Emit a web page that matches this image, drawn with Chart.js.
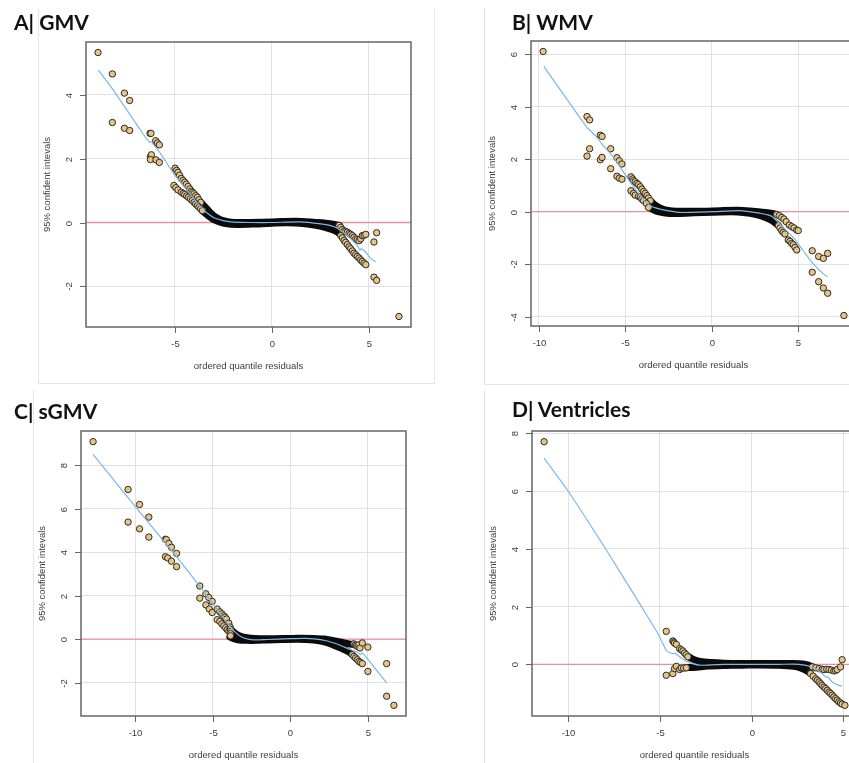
<!DOCTYPE html>
<html><head><meta charset="utf-8">
<script src="https://cdn.jsdelivr.net/npm/chart.js@4/dist/chart.umd.min.js"></script>
<style>
html,body{margin:0;padding:0;background:#fff;}
body{width:849px;height:763px;overflow:hidden;position:relative;}
.frame{position:absolute;border:0 solid #e5e5e5;box-sizing:border-box;}
.title{position:absolute;font-family:Lato,"Open Sans",sans-serif;font-weight:700;font-size:21px;color:#111;white-space:nowrap;line-height:21px;}
canvas{position:absolute;}
</style></head><body>
<div class="frame" style="left:38px;top:9px;width:397px;height:375px;border-left-width:1px;border-right-width:1px;border-bottom-width:1px"></div>
<div class="frame" style="left:484px;top:8px;width:370px;height:377px;border-left-width:1px;border-bottom-width:1px"></div>
<div class="frame" style="left:33px;top:390px;width:10px;height:373px;border-left-width:1px"></div>
<div class="frame" style="left:484px;top:390px;width:10px;height:373px;border-left-width:1px"></div>

<canvas id="cA" width="420" height="385" style="left:36px;top:0px"></canvas>
<canvas id="cB" width="420" height="385" style="left:481px;top:-1px"></canvas>
<canvas id="cC" width="420" height="385" style="left:31px;top:389px"></canvas>
<canvas id="cD" width="420" height="385" style="left:482px;top:389px"></canvas>

<div class="title" style="left:14px;top:11px">A| GMV</div>
<div class="title" style="left:512px;top:11px">B| WMV</div>
<div class="title" style="left:14px;top:400px">C| sGMV</div>
<div class="title" style="left:512px;top:398px">D| Ventricles</div>

<script>
// ---------------- common text ----------------
const xTitle = "ordered quantile residuals";
const yTitle = "95% confident intevals";
const refY = 0;

// ---------------- A | GMV ----------------
const gmvXTicks = [-5, 0, 5];
const gmvYTicks = [-2, 0, 2, 4];
const gmvXRange = [-9.57, 7.18];
const gmvYRange = [-3.27, 5.65];
const gmvPoints = [
  [-8.95,5.32],[-8.21,4.65],[-8.21,3.13],[-7.59,4.05],[-7.32,3.82],[-7.59,2.95],[-7.32,2.88],
  [-6.27,2.79],[-6.22,2.79],[-5.98,2.56],[-5.89,2.49],[-5.79,2.43],[-6.25,2.06],[-6.2,2.12],
  [-6.25,1.97],[-5.96,1.96],[-5.79,1.88],
  [-4.98,1.7],[-4.9,1.63],[-4.83,1.57],[-4.75,1.48],[-4.66,1.38],[-4.57,1.32],[-4.48,1.26],
  [-4.4,1.2],[-4.31,1.13],[-4.22,1.05],[-4.14,0.98],[-4.07,0.94],[-4.0,0.9],[-3.92,0.84],
  [-3.83,0.79],[-3.75,0.71],[-3.66,0.63],
  [-5.04,1.16],[-4.94,1.09],[-4.83,1.02],[-4.66,0.95],[-4.56,0.91],[-4.48,0.875],[-4.38,0.83],
  [-4.29,0.79],[-4.19,0.74],[-4.09,0.69],[-4.0,0.63],[-3.92,0.58],[-3.83,0.53],[-3.75,0.48],
  [-3.66,0.43],[-3.57,0.375],
  [3.47,-0.09],[3.56,-0.15],[3.64,-0.22],[3.73,-0.26],[3.81,-0.28],[3.9,-0.3],[3.99,-0.34],
  [4.07,-0.37],[4.16,-0.41],[4.24,-0.46],[4.33,-0.51],[4.41,-0.54],[4.5,-0.57],[4.59,-0.51],
  [4.67,-0.41],[4.76,-0.4],[4.85,-0.37],[5.27,-0.61],[5.41,-0.32],
  [3.56,-0.41],[3.64,-0.48],[3.73,-0.56],[3.81,-0.62],[3.9,-0.69],[3.99,-0.76],[4.07,-0.82],
  [4.16,-0.89],[4.24,-0.96],[4.33,-1.01],[4.41,-1.06],[4.5,-1.11],[4.59,-1.17],[4.67,-1.22],
  [4.76,-1.27],[4.85,-1.32],[5.27,-1.71],[5.41,-1.81],[6.56,-2.94]
];
const gmvBandHi = [[-3.7,0.66],[-3.5,0.53],[-3.3,0.4],[-3.1,0.27],[-2.9,0.17],[-2.6,0.08],[-2.2,0.02],
  [-1.5,0.0],[-0.5,0.01],[0.5,0.03],[1.2,0.04],[2.0,0.02],[2.6,-0.01],[3.0,-0.04],[3.3,-0.07],[3.5,-0.1]];
const gmvBandLo = [[-3.6,0.38],[-3.4,0.28],[-3.2,0.18],[-3.0,0.1],[-2.7,0.02],[-2.3,-0.04],[-1.8,-0.06],
  [-1.0,-0.05],[0,-0.02],[0.8,-0.01],[1.6,-0.03],[2.2,-0.08],[2.7,-0.14],[3.1,-0.22],[3.4,-0.3],[3.55,-0.38]];
const gmvFit = [[-8.93,4.77],[-8.21,4.18],[-7.44,3.5],[-6.75,2.88],[-6.29,2.51],[-6.2,2.53],[-6.1,2.45],
  [-5.72,2.15],[-5.04,1.52],[-4.35,1.0],[-3.66,0.48],[-3.3,0.28],[-2.97,0.15],[-2.5,0.06],[-1.94,0.01],
  [-1,0.0],[0,0.0],[1.49,0.02],[2.53,-0.04],[3.0,-0.09],[3.39,-0.18],[3.9,-0.41],[4.41,-0.72],
  [4.55,-0.86],[4.62,-0.82],[4.72,-0.86],[4.85,-0.93],[5.1,-1.12],[5.36,-1.23]];

// ---------------- B | WMV ----------------
const wmvXTicks = [-10, -5, 0, 5];
const wmvYTicks = [-4, -2, 0, 2, 4, 6];
const wmvXRange = [-10.46, 8.34];
const wmvYRange = [-4.36, 6.51];
const wmvPoints = [
  [-9.76,6.11],[-7.22,3.63],[-7.07,3.5],[-7.22,2.12],[-7.07,2.4],[-6.45,2.92],[-6.35,2.87],
  [-6.45,1.98],[-6.35,2.07],[-5.85,2.4],[-5.85,1.64],[-5.49,2.06],[-5.35,1.94],[-5.2,1.82],
  [-5.49,1.35],[-5.35,1.28],[-5.2,1.24],
  [-4.68,1.33],[-4.58,1.25],[-4.53,1.18],[-4.43,1.14],[-4.33,1.08],[-4.24,1.03],[-4.14,0.95],
  [-4.05,0.86],[-3.95,0.77],[-3.85,0.7],[-3.75,0.61],[-3.66,0.52],[-3.56,0.42],
  [-4.68,0.8],[-4.53,0.7],[-4.43,0.63],[-4.24,0.58],[-4.14,0.55],[-4.05,0.48],[-3.95,0.42],
  [-3.79,0.32],[-3.66,0.16],
  [3.75,-0.11],[3.9,-0.15],[4.04,-0.22],[4.17,-0.28],[4.3,-0.38],[4.48,-0.51],[4.62,-0.57],
  [4.75,-0.62],[4.91,-0.7],[5.0,-0.72],
  [3.85,-0.53],[3.94,-0.62],[4.04,-0.72],[4.13,-0.79],[4.23,-0.85],[4.42,-1.08],[4.52,-1.13],
  [4.62,-1.21],[4.71,-1.26],[4.81,-1.36],[4.91,-1.46],
  [5.81,-1.49],[5.81,-2.31],[6.18,-1.71],[6.18,-2.67],[6.45,-1.78],[6.45,-2.91],[6.7,-1.59],
  [6.7,-3.11],[7.64,-3.96]
];
const wmvBandHi = [[-3.6,0.45],[-3.4,0.32],[-3.2,0.22],[-3.0,0.14],[-2.7,0.07],[-2.3,0.03],[-1.5,0.02],
  [-0.5,0.02],[0.5,0.04],[1.5,0.05],[2.2,0.03],[2.7,0.0],[3.1,-0.03],[3.5,-0.07],[3.75,-0.11]];
const wmvBandLo = [[-3.65,0.18],[-3.4,0.08],[-3.1,0.0],[-2.7,-0.05],[-2.2,-0.07],[-1.5,-0.06],[-0.5,-0.03],
  [0.5,-0.01],[1.5,-0.01],[2.2,-0.06],[2.7,-0.13],[3.1,-0.22],[3.5,-0.35],[3.8,-0.5]];
const wmvFit = [[-9.72,5.54],[-8.5,4.4],[-7.22,3.21],[-7.03,3.09],[-6.8,2.95],[-6.35,2.58],[-5.68,2.07],
  [-4.91,1.31],[-4.14,0.61],[-3.56,0.23],[-2.99,0.1],[-2.4,0.02],[-1.83,-0.03],[0,0.0],[1.64,0.04],
  [2.79,-0.06],[3.3,-0.13],[3.56,-0.22],[4.13,-0.6],[4.71,-0.98],[5.29,-1.49],[5.87,-1.99],
  [6.45,-2.37],[6.68,-2.48]];

// ---------------- C | sGMV ----------------
const sgmvXTicks = [-10, -5, 0, 5];
const sgmvYTicks = [-2, 0, 2, 4, 6, 8];
const sgmvXRange = [-13.51, 7.47];
const sgmvYRange = [-3.54, 9.57];
const sgmvPoints = [
  [-12.73,9.08],[-10.47,6.88],[-10.47,5.38],[-9.73,6.19],[-9.73,5.07],[-9.13,5.61],[-9.13,4.69],
  [-8.06,4.59],[-8.0,4.57],[-7.84,4.4],[-7.67,4.22],[-7.34,3.94],[-8.06,3.79],[-7.91,3.73],
  [-7.67,3.58],[-7.34,3.33],[-5.84,2.44],[-5.84,1.88],[-5.45,2.08],[-5.26,1.91],[-5.04,1.73],
  [-5.45,1.57],[-5.23,1.38],[-5.04,1.22],
  [-4.72,1.38],[-4.55,1.25],[-4.42,1.16],[-4.29,1.07],[-4.2,1.0],[-4.12,0.92],[-3.97,0.73],
  [-4.72,0.89],[-4.55,0.81],[-4.42,0.7],[-4.29,0.61],[-4.17,0.52],[-4.07,0.43],[-3.97,0.35],
  [-3.88,0.55],[-3.87,0.45],[-3.86,0.35],[-3.86,0.25],[-3.86,0.15],
  [4.11,-0.22],[4.2,-0.28],[4.28,-0.31],[4.36,-0.35],[4.43,-0.26],[4.5,-0.41],[4.65,-0.18],[5.01,-0.37],
  [4.0,-0.72],[4.11,-0.8],[4.22,-0.87],[4.33,-0.95],[4.43,-1.03],[4.54,-1.08],[4.65,-1.13],[5.01,-1.49],
  [6.22,-1.13],[6.22,-2.63],[6.69,-3.05]
];
const sgmvBandHi = [[-3.9,0.5],[-3.75,0.38],[-3.5,0.24],[-3.2,0.13],[-2.8,0.06],[-2.3,0.02],[-1.5,0.01],
  [-0.5,0.02],[0.5,0.04],[1.5,0.03],[2.2,0.0],[2.8,-0.08],[3.3,-0.15],[3.8,-0.22],[4.05,-0.25]];
const sgmvBandLo = [[-3.9,0.1],[-3.6,0.0],[-3.3,-0.05],[-2.8,-0.06],[-2.2,-0.06],[-1.5,-0.04],[-0.5,-0.02],
  [0.5,-0.01],[1.5,-0.05],[2.2,-0.13],[2.8,-0.28],[3.3,-0.42],[3.7,-0.56],[3.95,-0.68]];
const sgmvFit = [[-12.73,8.5],[-9.99,6.08],[-7.09,3.56],[-5.5,2.1],[-4.07,0.73],[-3.6,0.35],[-3.21,0.12],
  [-2.56,-0.03],[-1.5,-0.02],[0,0.02],[1.0,0.03],[1.96,-0.03],[2.82,-0.18],[3.9,-0.49],[4.33,-0.61],
  [4.54,-0.72],[4.65,-0.64],[4.86,-0.8],[6.22,-2.02]];

// ---------------- D | Ventricles ----------------
const ventXTicks = [-10, -5, 0, 5];
const ventYTicks = [0, 2, 4, 6, 8];
const ventXRange = [-11.97, 5.75];
const ventYRange = [-1.79, 8.08];
const ventPoints = [
  [-11.31,7.71],
  [-4.65,1.14],[-4.29,0.81],[-4.24,0.77],[-4.2,0.73],[-4.1,0.69],[-3.92,0.54],[-3.83,0.5],
  [-3.74,0.46],[-3.65,0.39],[-3.56,0.33],[-3.47,0.26],
  [-4.65,-0.38],[-4.29,-0.32],[-4.2,-0.15],[-4.1,-0.07],[-3.92,-0.18],[-3.83,-0.13],[-3.7,-0.13],[-3.56,-0.12],
  [3.31,-0.09],[3.5,-0.12],[3.68,-0.15],[3.85,-0.17],[3.95,-0.18],[4.1,-0.17],[4.22,-0.18],[4.35,-0.2],
  [4.49,-0.23],[4.58,-0.21],[4.67,-0.18],[4.85,-0.09],[4.94,0.16],
  [3.22,-0.32],[3.36,-0.41],[3.5,-0.5],[3.59,-0.55],[3.68,-0.61],[3.77,-0.67],[3.85,-0.73],[3.95,-0.79],
  [4.04,-0.84],[4.13,-0.9],[4.22,-0.96],[4.31,-1.01],[4.4,-1.07],[4.49,-1.13],[4.58,-1.19],[4.67,-1.24],
  [4.76,-1.3],[4.85,-1.34],[4.94,-1.38],[5.09,-1.42]
];
const ventBandHi = [[-3.5,0.3],[-3.2,0.18],[-2.8,0.1],[-2.2,0.06],[-1.5,0.04],[-0.5,0.03],[0.5,0.03],
  [1.5,0.03],[2.3,0.03],[2.8,0.01],[3.1,-0.03],[3.3,-0.08]];
const ventBandLo = [[-3.6,-0.12],[-3.0,-0.1],[-2.4,-0.06],[-1.5,-0.04],[-0.5,-0.03],[0.5,-0.02],
  [1.5,-0.03],[2.3,-0.07],[2.7,-0.13],[3.0,-0.22],[3.2,-0.3]];
const ventFit = [[-11.31,7.14],[-10.02,6.02],[-7.9,3.94],[-6.1,2.1],[-5.1,1.06],[-4.65,0.48],[-4.45,0.4],
  [-4.29,0.37],[-4.15,0.38],[-3.9,0.25],[-3.56,0.11],[-2.84,-0.03],[-1.5,0.0],[0,0],[1.5,0.0],[2.59,0.0],
  [3.31,-0.1],[3.85,-0.32],[4.04,-0.44],[4.15,-0.44],[4.4,-0.61],[4.76,-0.73],[4.94,-0.75]];

// ---------------- drawing ----------------
const toXY = arr => arr.map(p => ({x: p[0], y: p[1]}));
const AXIS_COL = '#666';
const TXT_COL = '#3c3c3c';
const FONT = '9.5px "Liberation Sans", Arial, sans-serif';

function decor(xTicks, yTicks) {
  return {
    id: 'decor',
    beforeDatasetsDraw(chart) {
      const {ctx, chartArea: a, scales: {y}} = chart;
      const py = y.getPixelForValue(refY);
      ctx.save();
      ctx.beginPath(); ctx.rect(a.left, a.top, a.right - a.left, a.bottom - a.top); ctx.clip();
      ctx.strokeStyle = '#e8909e'; ctx.lineWidth = 1.3;
      ctx.beginPath(); ctx.moveTo(a.left, py); ctx.lineTo(a.right, py); ctx.stroke();
      ctx.restore();
    },
    afterDraw(chart) {
      const {ctx, chartArea: a, scales: {x, y}} = chart;
      ctx.save();
      ctx.strokeStyle = AXIS_COL; ctx.lineWidth = 1.5;
      ctx.strokeRect(a.left, a.top, a.right - a.left, a.bottom - a.top);
      ctx.lineWidth = 1;
      ctx.fillStyle = TXT_COL; ctx.font = FONT;
      ctx.textAlign = 'center'; ctx.textBaseline = 'middle';
      xTicks.forEach(v => {
        const px = Math.round(x.getPixelForValue(v)) + 0.5;
        ctx.beginPath(); ctx.moveTo(px, a.bottom); ctx.lineTo(px, a.bottom + 6); ctx.stroke();
        ctx.fillText(String(v), px, a.bottom + 17.5);
      });
      yTicks.forEach(v => {
        const py = Math.round(y.getPixelForValue(v)) + 0.5;
        ctx.beginPath(); ctx.moveTo(a.left, py); ctx.lineTo(a.left - 6, py); ctx.stroke();
        ctx.save(); ctx.translate(a.left - 17, py); ctx.rotate(-Math.PI / 2);
        ctx.fillText(String(v), 0, 0); ctx.restore();
      });
      ctx.fillText(xTitle, (a.left + a.right) / 2, a.bottom + 39.5);
      ctx.save(); ctx.translate(a.left - 38.5, (a.top + a.bottom) / 2); ctx.rotate(-Math.PI / 2);
      ctx.fillText(yTitle, 0, 0); ctx.restore();
      ctx.restore();
    }
  };
}

function makeChart(id, pts, hi, lo, fit, xr, yr, xt, yt) {
  const tickSetter = ticks => scale => { scale.ticks = ticks.map(v => ({value: v})); };
  new Chart(document.getElementById(id), {
    type: 'scatter',
    data: {
      datasets: [
        {type: 'line', data: toXY(fit), borderColor: '#7db6e8', borderWidth: 1.2, pointRadius: 0, tension: 0.2, order: 0},
        {type: 'scatter', data: toXY(pts), pointRadius: 3.2, backgroundColor: '#e8c482', borderColor: '#2a2a2a', borderWidth: 1, order: 1},
        {type: 'line', data: toXY(hi), borderColor: '#0b0b0b', borderWidth: 7, pointRadius: 0, tension: 0.3, borderCapStyle: 'round', borderJoinStyle: 'round', order: 2},
        {type: 'line', data: toXY(lo), borderColor: '#0b0b0b', borderWidth: 7, pointRadius: 0, tension: 0.3, borderCapStyle: 'round', borderJoinStyle: 'round', order: 3}
      ]
    },
    options: {
      responsive: false, animation: false, devicePixelRatio: 1,
      layout: {padding: {left: 50, top: 42, right: 45, bottom: 58}},
      plugins: {legend: {display: false}, tooltip: {enabled: false}},
      scales: {
        x: {type: 'linear', min: xr[0], max: xr[1], afterBuildTicks: tickSetter(xt),
            ticks: {display: false}, grid: {color: '#e2e2e2', drawTicks: false, lineWidth: 1}, border: {display: false}},
        y: {type: 'linear', min: yr[0], max: yr[1], afterBuildTicks: tickSetter(yt),
            ticks: {display: false}, grid: {color: '#e2e2e2', drawTicks: false, lineWidth: 1}, border: {display: false}}
      }
    },
    plugins: [decor(xt, yt)]
  });
}

makeChart('cA', gmvPoints, gmvBandHi, gmvBandLo, gmvFit, gmvXRange, gmvYRange, gmvXTicks, gmvYTicks);
makeChart('cB', wmvPoints, wmvBandHi, wmvBandLo, wmvFit, wmvXRange, wmvYRange, wmvXTicks, wmvYTicks);
makeChart('cC', sgmvPoints, sgmvBandHi, sgmvBandLo, sgmvFit, sgmvXRange, sgmvYRange, sgmvXTicks, sgmvYTicks);
makeChart('cD', ventPoints, ventBandHi, ventBandLo, ventFit, ventXRange, ventYRange, ventXTicks, ventYTicks);
</script>
</body></html>
